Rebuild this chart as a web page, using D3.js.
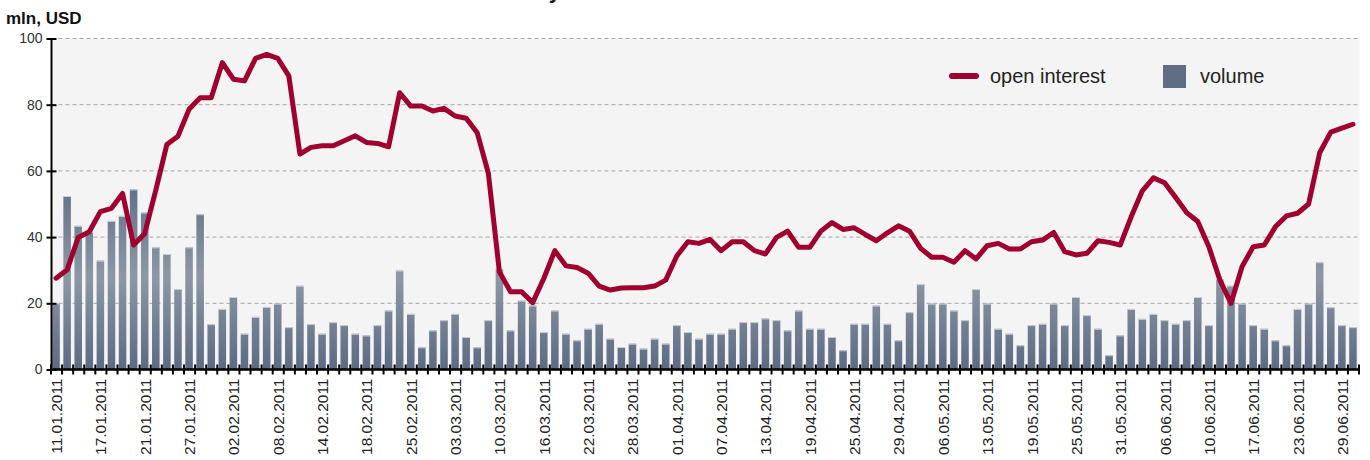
<!DOCTYPE html>
<html>
<head>
<meta charset="utf-8">
<script src="https://cdn.jsdelivr.net/npm/d3@7"></script>
<style>
  body { margin: 0; background: #fff; }
  svg { display: block; font-family: "Liberation Sans", Arial, sans-serif; }
</style>
</head>
<body>
<div class="chart"></div>
<script>
// daily volume, mln USD (one bar per trading day)
var volume = [20.0, 52.4, 43.4, 41.6, 32.9, 44.9, 46.4, 54.4, 47.4, 36.9,
  34.9, 24.3, 36.9, 46.9, 13.7, 18.3, 21.9, 10.8, 15.9, 18.9,
  19.9, 12.8, 25.3, 13.7, 10.8, 14.3, 13.4, 10.8, 10.3, 13.4,
  17.8, 29.9, 16.8, 6.7, 11.8, 14.9, 16.8, 9.8, 6.7, 14.9,
  30.4, 11.8, 20.8, 19.3, 11.3, 17.8, 10.8, 8.8, 12.3, 13.8,
  9.3, 6.8, 7.8, 6.3, 9.3, 7.8, 13.4, 11.3, 9.3, 10.8,
  10.8, 12.3, 14.3, 14.3, 15.4, 14.9, 11.8, 17.8, 12.3, 12.3,
  9.8, 5.8, 13.8, 13.8, 19.3, 13.8, 8.8, 17.3, 25.8, 19.9,
  19.9, 17.8, 14.9, 24.3, 19.9, 12.3, 10.8, 7.3, 13.4, 13.8,
  19.9, 13.4, 21.9, 16.4, 12.3, 4.3, 10.3, 18.3, 15.3, 16.8,
  14.9, 13.8, 14.9, 21.9, 13.4, 27.3, 25.3, 19.9, 13.4, 12.3,
  8.8, 7.3, 18.3, 19.9, 32.4, 18.8, 13.4, 12.8];

// open interest, mln USD
var openInterest = [27.6, 30.1, 39.9, 41.6, 47.7, 48.7, 53.2, 37.6, 41.1, 54.2,
  68.0, 70.5, 78.6, 82.1, 82.1, 92.7, 87.7, 87.2, 94.0, 95.2,
  94.0, 88.7, 65.1, 67.1, 67.6, 67.6, 69.1, 70.6, 68.6, 68.3,
  67.3, 83.6, 79.6, 79.6, 78.1, 78.9, 76.6, 75.9, 71.5, 59.3,
  29.5, 23.5, 23.5, 20.2, 27.5, 35.9, 31.3, 30.8, 29.1, 25.2,
  24.0, 24.6, 24.7, 24.7, 25.2, 27.0, 34.3, 38.6, 38.1, 39.3,
  35.9, 38.6, 38.6, 35.9, 34.9, 39.9, 41.8, 36.9, 36.9, 41.8,
  44.4, 42.3, 42.8, 40.8, 38.9, 41.3, 43.4, 41.8, 36.6, 33.9,
  33.9, 32.4, 35.9, 33.4, 37.4, 38.1, 36.4, 36.4, 38.6, 39.1,
  41.4, 35.6, 34.6, 35.1, 38.9, 38.4, 37.6, 46.2, 54.0, 57.9,
  56.4, 52.0, 47.4, 44.7, 37.1, 27.0, 20.0, 31.1, 37.1, 37.6,
  43.1, 46.4, 47.2, 50.0, 65.5, 71.7, 72.9, 74.1];

// date labels, one for every 4th trading day
var tickLabels = ["11.01.2011", "17.01.2011", "21.01.2011", "27.01.2011", "02.02.2011",
  "08.02.2011", "14.02.2011", "18.02.2011", "25.02.2011", "03.03.2011",
  "10.03.2011", "16.03.2011", "22.03.2011", "28.03.2011", "01.04.2011",
  "07.04.2011", "13.04.2011", "19.04.2011", "25.04.2011", "29.04.2011",
  "06.05.2011", "13.05.2011", "19.05.2011", "25.05.2011", "31.05.2011",
  "06.06.2011", "10.06.2011", "17.06.2011", "23.06.2011", "29.06.2011"];
var labelStep = 4;
var yTicks = [0, 20, 40, 60, 80, 100];

var WIDTH = 1370, HEIGHT = 460;
var plotLeft = 50.5, plotRight = 1358.5, plotTop = 38.5, plotBottom = 369.5;

var days = d3.range(volume.length);

var x = d3.scaleBand()
    .domain(days)
    .range([plotLeft, plotRight])
    .paddingInner(0.32)
    .paddingOuter(0.16);

// boundaries between days, for the axis ticks
var xEdge = d3.scaleLinear()
    .domain([0, days.length])
    .range([plotLeft, plotRight]);

var y = d3.scaleLinear()
    .domain([0, 100])
    .range([plotBottom, plotTop]);

var svg = d3.select('.chart').append("svg")
    .attr('width', WIDTH)
    .attr('height', HEIGHT);

var defs = svg.append("defs");
var grad = defs.append("linearGradient")
    .attr("id", "barGrad")
    .attr("gradientUnits", "userSpaceOnUse")
    .attr("x1", 0).attr("x2", 0)
    .attr("y1", y(56)).attr("y2", y(0));
grad.append("stop").attr("offset", "0%").attr("stop-color", "#617088");
grad.append("stop").attr("offset", "50%").attr("stop-color", "#8c98a5");
grad.append("stop").attr("offset", "100%").attr("stop-color", "#5c6a83");

// title (cut by the top edge)
svg.append("text")
    .attr("x", 561)
    .attr("y", -2)
    .attr("text-anchor", "end")
    .style("font-weight", "bold")
    .style("font-size", "22px")
    .style("fill", "#111")
    .text("Futures market activity");

// plot background
svg.append("rect")
    .attr("x", plotLeft + 1)
    .attr("y", plotTop)
    .attr("width", plotRight - plotLeft)
    .attr("height", plotBottom - plotTop)
    .attr("fill", "#f4f4f4");

// grid
svg.append("g")
    .selectAll("line")
    .data(yTicks.filter(d => d > 0))
    .enter()
    .append("line")
    .attr("x1", plotLeft + 1)
    .attr("x2", plotRight)
    .attr("y1", d => y(d))
    .attr("y2", d => y(d))
    .attr("stroke", "#a6a6a6")
    .attr("stroke-width", 1)
    .attr("stroke-dasharray", "4,3");

// volume bars
var bars = svg.append("g");
bars.selectAll("rect")
    .data(volume)
    .enter()
    .append("rect")
    .attr("x", (d, i) => x(i))
    .attr("y", d => y(d))
    .attr("width", x.bandwidth())
    .attr("height", d => y(0) - y(d))
    .attr("fill", "url(#barGrad)");
bars.selectAll("line")
    .data(volume)
    .enter()
    .append("line")
    .attr("x1", (d, i) => x(i))
    .attr("x2", (d, i) => x(i) + x.bandwidth())
    .attr("y1", d => y(d) + 0.5)
    .attr("y2", d => y(d) + 0.5)
    .attr("stroke", "#c9d0d8")
    .attr("stroke-width", 1);

// open interest line
var line = d3.line()
    .x((d, i) => x(i) + x.bandwidth() / 2)
    .y(d => y(d));

svg.append("path")
    .datum(openInterest)
    .attr("d", line)
    .attr("fill", "none")
    .attr("stroke", "#a00030")
    .attr("stroke-width", 5)
    .attr("stroke-linejoin", "round")
    .attr("stroke-linecap", "round");

// y axis
var yAxis = svg.append("g")
    .attr("transform", "translate(" + (plotLeft + 1) + ",0)")
    .call(d3.axisLeft(y).tickValues(yTicks).tickSize(5).tickPadding(4));
yAxis.select(".domain")
    .attr("stroke", "#000")
    .attr("stroke-width", 2)
    .attr("d", "M0," + plotBottom + "V" + plotTop);
yAxis.selectAll(".tick line")
    .attr("x1", -5)
    .attr("x2", 5)
    .attr("stroke", "#000")
    .attr("stroke-width", 2);
yAxis.selectAll(".tick text")
    .style("font-size", "14px")
    .style("fill", "#333");

// x axis
var xAxis = svg.append("g");
xAxis.append("line")
    .attr("x1", plotLeft)
    .attr("x2", plotRight + 1)
    .attr("y1", plotBottom)
    .attr("y2", plotBottom)
    .attr("stroke", "#000")
    .attr("stroke-width", 2.5);
xAxis.selectAll(".edge")
    .data(d3.range(days.length + 1))
    .enter()
    .append("line")
    .attr("class", "edge")
    .attr("x1", d => xEdge(d) + 0.5)
    .attr("x2", d => xEdge(d) + 0.5)
    .attr("y1", plotBottom - 5)
    .attr("y2", plotBottom + 5)
    .attr("stroke", "#000")
    .attr("stroke-width", 2);
xAxis.selectAll("text")
    .data(tickLabels)
    .enter()
    .append("text")
    .attr("transform", (d, i) => "translate(" + (x(i * labelStep) + x.bandwidth() / 2 + 6) + "," + (plotBottom + 9) + ") rotate(-90)")
    .attr("text-anchor", "end")
    .style("font-size", "15.5px")
    .style("fill", "#222")
    .text(d => d);

// unit label
svg.append("text")
    .attr("x", 6)
    .attr("y", 24)
    .style("font-weight", "bold")
    .style("font-size", "17px")
    .style("fill", "#111")
    .text("mln, USD");

// legend
var legend = svg.append("g").attr("transform", "translate(950,76)");
legend.append("line")
    .attr("x1", 2).attr("x2", 26)
    .attr("y1", 0).attr("y2", 0)
    .attr("stroke", "#a00030")
    .attr("stroke-width", 6)
    .attr("stroke-linecap", "round");
legend.append("text")
    .attr("x", 40).attr("y", 7)
    .style("font-size", "20px")
    .style("fill", "#222")
    .text("open interest");
legend.append("rect")
    .attr("x", 213).attr("y", -11)
    .attr("width", 23).attr("height", 23)
    .attr("fill", "#5f6e85");
legend.append("text")
    .attr("x", 250).attr("y", 7)
    .style("font-size", "20px")
    .style("fill", "#222")
    .text("volume");
</script>
</body>
</html>
